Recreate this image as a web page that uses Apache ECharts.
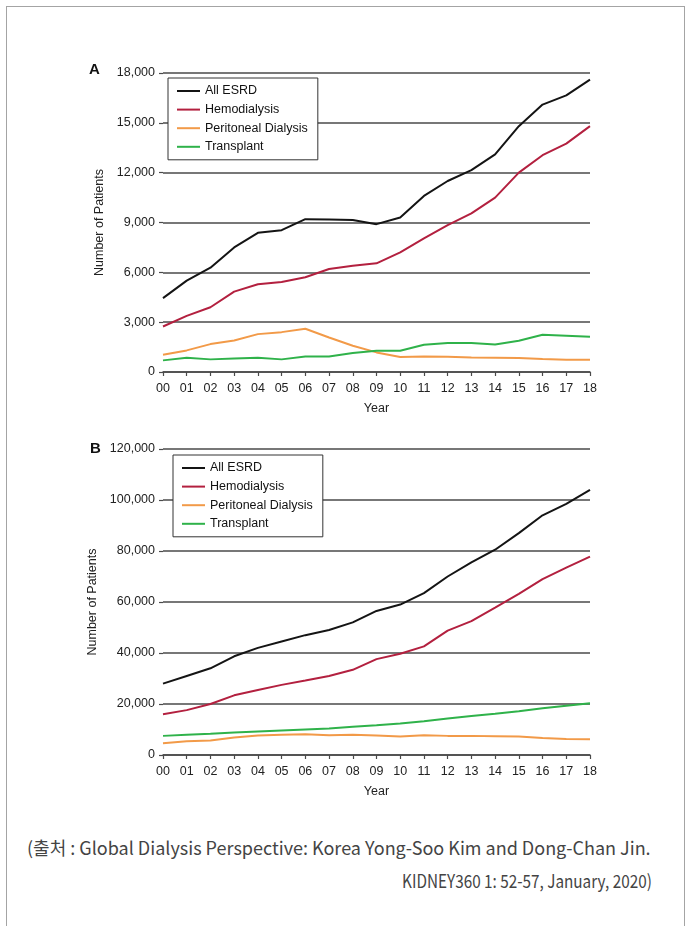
<!DOCTYPE html>
<html>
<head>
<meta charset="utf-8">
<script src="https://cdn.jsdelivr.net/npm/echarts@6/dist/echarts.min.js"></script>
<style>
    html, body { margin: 0; padding: 0; background: #fff; }
    #wrap { position: relative; width: 687px; height: 926px; overflow: hidden; }
    #frame { position: absolute; left: 6px; top: 6px; width: 679px; height: 960px; border: 1.5px solid #a4a4a4; box-sizing: border-box; }
    #chart { position: absolute; left: 0; top: 0; width: 687px; height: 820px; }
    .cap { position: absolute; font-family: "Noto Sans CJK KR", "Noto Sans", sans-serif; font-size: 18px; line-height: 26px; color: #444; white-space: nowrap; }
    #cap2 { transform: scaleX(0.85); transform-origin: right center; }
</style>
</head>
<body>
<div id="wrap">
    <div id="frame"></div>
    <div id="chart"></div>
    <div class="cap" id="cap1" style="left:27px; top:834px;">(출처 : Global Dialysis Perspective: Korea Yong-Soo Kim and Dong-Chan Jin.</div>
    <div class="cap" id="cap2" style="right:35px; top:867px;">KIDNEY360 1: 52-57, January, 2020)</div>
</div>
<script>
// Years on the x axis
const years = ['00', '01', '02', '03', '04', '05', '06', '07', '08', '09',
               '10', '11', '12', '13', '14', '15', '16', '17', '18'];
const seriesNames = ['All ESRD', 'Hemodialysis', 'Peritoneal Dialysis', 'Transplant'];
const seriesColors = ['#141414', '#b3203f', '#f29a48', '#2fb24a'];

// Panel A - incident patients
const incAll = [4450, 5500, 6280, 7500, 8380, 8540, 9200, 9180, 9150, 8900,
                9300, 10600, 11500, 12150, 13100, 14800, 16100, 16650, 17600];
const incHD = [2740, 3380, 3900, 4840, 5280, 5420, 5700, 6200, 6400, 6540,
               7200, 8040, 8840, 9550, 10500, 12000, 13050, 13750, 14800];
const incPD = [1040, 1300, 1680, 1900, 2280, 2400, 2600, 2080, 1580, 1180,
               900, 940, 920, 880, 860, 840, 780, 740, 740];
const incTx = [700, 860, 760, 820, 860, 760, 940, 940, 1140, 1280,
               1280, 1640, 1740, 1740, 1660, 1880, 2240, 2180, 2120];

// Panel B - prevalent patients
const prevAll = [28000, 31000, 34000, 38700, 42000, 44500, 47000, 49000, 52000, 56500,
                 59000, 63500, 70000, 75500, 80500, 87000, 94000, 98500, 104000];
const prevHD = [16000, 17600, 20000, 23400, 25500, 27500, 29200, 31000, 33400, 37600,
                39700, 42600, 48800, 52500, 57800, 63200, 69000, 73500, 77800];
const prevPD = [4600, 5400, 5650, 6850, 7630, 7900, 8150, 7760, 7900, 7630,
                7240, 7760, 7500, 7500, 7370, 7240, 6710, 6320, 6200];
const prevTx = [7500, 7900, 8300, 8800, 9200, 9600, 10000, 10400, 11050, 11700,
                12400, 13200, 14300, 15300, 16200, 17200, 18300, 19300, 20300];

const FONT = '"Liberation Sans", Arial, sans-serif';
const gridColor = '#4a4a4a';

const fmt = v => v.toLocaleString('en-US');

function xAxisFor(idx) {
    return {
        type: 'category', gridIndex: idx, data: years, boundaryGap: false,
        name: 'Year', nameLocation: 'middle', nameGap: 30,
        nameTextStyle: { fontFamily: FONT, fontSize: 12.5, color: '#222' },
        axisLine: { show: true, lineStyle: { color: gridColor, width: 1.5 } },
        axisTick: { show: true, length: 4, lineStyle: { color: gridColor, width: 1.2 } },
        axisLabel: { fontFamily: FONT, fontSize: 12.5, color: '#222', margin: 10, interval: 0 }
    };
}

function yAxisFor(idx, max, step) {
    return {
        type: 'value', gridIndex: idx, min: 0, max: max, interval: step,
        name: 'Number of Patients', nameLocation: 'middle', nameGap: 52, nameRotate: 90,
        nameTextStyle: { fontFamily: FONT, fontSize: 12.5, color: '#222' },
        axisLine: { show: false },
        axisTick: { show: true, length: 4, lineStyle: { color: gridColor, width: 1.2 } },
        axisLabel: { fontFamily: FONT, fontSize: 12.5, color: '#222', margin: 8, formatter: fmt },
        splitLine: { show: true, lineStyle: { color: gridColor, width: 1.5 } }
    };
}

// plain line swatches, no markers
function legendFor(left, top) {
    return {
        data: seriesNames.map(n => ({ name: n, icon: 'rect' })),
        orient: 'vertical', left: left, top: top,
        backgroundColor: '#fff', borderColor: '#333', borderWidth: 1,
        padding: [6, 10, 6, 9], itemWidth: 23, itemHeight: 2, itemGap: 4.6,
        textStyle: { fontFamily: FONT, fontSize: 12.5, lineHeight: 14, color: '#111' }
    };
}

function lines(idx, arrays) {
    return arrays.map((d, i) => ({
        name: seriesNames[i], type: 'line', xAxisIndex: idx, yAxisIndex: idx,
        data: d, symbol: 'none', smooth: false,
        lineStyle: { color: seriesColors[i], width: 2 },
        itemStyle: { color: seriesColors[i] }
    }));
}

const chart = echarts.init(document.getElementById('chart'));
chart.setOption({
    animation: false,
    grid: [
        { left: 163, width: 427, top: 73, height: 299 },
        { left: 163, width: 427, top: 449, height: 306 }
    ],
    xAxis: [xAxisFor(0), xAxisFor(1)],
    yAxis: [yAxisFor(0, 18000, 3000), yAxisFor(1, 120000, 20000)],
    legend: [legendFor(168, 78), legendFor(173, 455)],
    graphic: [
        { type: 'text', left: 89, top: 62, style: { text: 'A', font: 'bold 15px ' + FONT, fill: '#111' } },
        { type: 'text', left: 90, top: 441, style: { text: 'B', font: 'bold 15px ' + FONT, fill: '#111' } }
    ],
    series: lines(0, [incAll, incHD, incPD, incTx]).concat(lines(1, [prevAll, prevHD, prevPD, prevTx]))
});
</script>
</body>
</html>
